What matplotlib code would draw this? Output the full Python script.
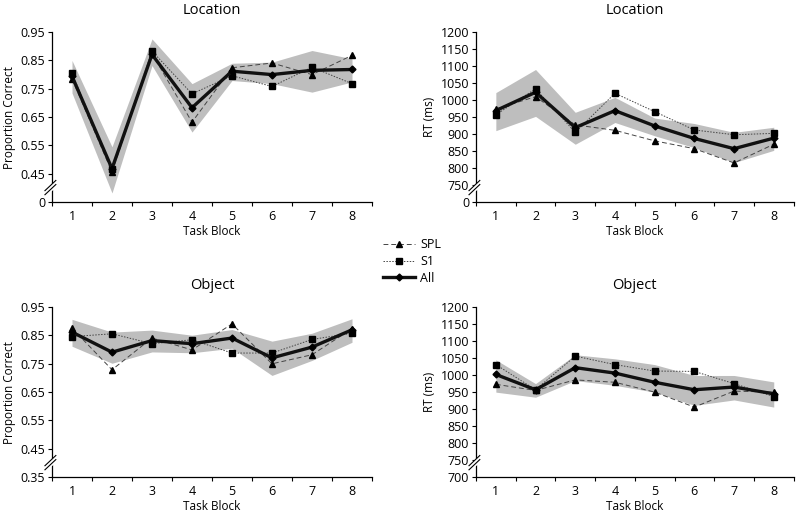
import matplotlib
matplotlib.use('Agg')
import matplotlib.pyplot as plt
from matplotlib.lines import Line2D
import numpy as np

plt.rcParams['font.family'] = ['Open Sans', 'DejaVu Sans']

blocks = [1, 2, 3, 4, 5, 6, 7, 8]

# Location - proportion correct
loc_pc_all = [0.794, 0.468, 0.871, 0.683, 0.812, 0.800, 0.815, 0.818]
loc_pc_spl = [0.785, 0.456, 0.874, 0.632, 0.824, 0.841, 0.800, 0.868]
loc_pc_s1 = [0.805, 0.466, 0.883, 0.732, 0.796, 0.758, 0.826, 0.768]
loc_pc_lo = [0.735, 0.382, 0.832, 0.597, 0.779, 0.768, 0.738, 0.774]
loc_pc_hi = [0.850, 0.545, 0.926, 0.768, 0.840, 0.844, 0.885, 0.856]

# Location - RT
loc_rt_all = [969, 1023, 919, 969, 924, 887, 857, 888]
loc_rt_spl = [974, 1010, 927, 911, 880, 857, 815, 870]
loc_rt_s1 = [957, 1033, 905, 1020, 966, 912, 898, 902]
loc_rt_lo = [910, 952, 870, 934, 895, 860, 816, 852]
loc_rt_hi = [1022, 1090, 964, 1008, 947, 931, 905, 920]

# Object - proportion correct
obj_pc_all = [0.862, 0.791, 0.832, 0.821, 0.841, 0.771, 0.809, 0.870]
obj_pc_spl = [0.876, 0.729, 0.841, 0.799, 0.891, 0.750, 0.782, 0.874]
obj_pc_s1 = [0.846, 0.856, 0.821, 0.835, 0.788, 0.788, 0.836, 0.858]
obj_pc_lo = [0.812, 0.752, 0.792, 0.789, 0.805, 0.709, 0.762, 0.826]
obj_pc_hi = [0.907, 0.862, 0.869, 0.851, 0.871, 0.830, 0.858, 0.909]

# Object - RT
obj_rt_all = [1002, 957, 1022, 1006, 979, 957, 965, 945]
obj_rt_spl = [973, 955, 986, 979, 950, 906, 953, 950]
obj_rt_s1 = [1031, 957, 1056, 1031, 1012, 1011, 975, 937]
obj_rt_lo = [950, 935, 984, 970, 950, 911, 927, 906]
obj_rt_hi = [1045, 975, 1060, 1048, 1031, 999, 999, 980]

pc_ticks = [0.35, 0.45, 0.55, 0.65, 0.75, 0.85, 0.95]
rt_ticks = [700, 750, 800, 850, 900, 950, 1000, 1050, 1100, 1150, 1200]

band_col = '#bebebe'
thin_col = '#444444'


def panel(ax, title, allv, spl, s1, lo, hi, ticks, bottom_label, ylabel):
    ax.fill_between(blocks, lo, hi, color=band_col, lw=0, zorder=1)
    ax.plot(blocks, spl, ls=(0, (5, 3)), color=thin_col, lw=0.7,
            marker='^', ms=5, mfc='black', mec='black', zorder=2)
    ax.plot(blocks, s1, ls=(0, (1.5, 1.5)), color=thin_col, lw=0.7,
            marker='s', ms=5, mfc='black', mec='black', zorder=2)
    ax.plot(blocks, allv, ls='-', color='#111111', lw=2.4,
            marker='D', ms=3.5, mfc='black', mec='black', zorder=3)

    ax.set_xlim(0.5, 8.5)
    ax.set_ylim(ticks[0], ticks[-1])
    ax.set_xticks(np.arange(0.5, 9.0, 1.0))
    ax.set_xticklabels([])
    ax.set_xticks(blocks, minor=True)
    ax.set_xticklabels([str(b) for b in blocks], minor=True)
    ax.tick_params(axis='x', which='major', length=3, width=0.8, direction='out')
    ax.tick_params(axis='x', which='minor', length=0, pad=6, labelsize=9)
    ax.set_yticks(ticks)
    labels = [('%g' % t) if isinstance(t, int) else ('%.2f' % t) for t in ticks]
    labels[0] = bottom_label
    ax.set_yticklabels(labels)
    ax.tick_params(axis='y', length=3, width=0.8, direction='out', labelsize=9, pad=2)

    for s in ['top', 'right']:
        ax.spines[s].set_visible(False)
    ax.spines['left'].set_linewidth(0.9)
    ax.spines['bottom'].set_linewidth(0.9)

    ax.set_title(title, fontsize=10.5, pad=13)
    ax.set_xlabel('Task Block', fontsize=8.5, labelpad=1)
    ax.set_ylabel(ylabel, fontsize=8.5, labelpad=3)

    # axis break marks
    yb = 0.085
    ax.plot([-0.018, 0.018], [yb - 0.025, yb + 0.025], transform=ax.transAxes,
            color='white', lw=4, clip_on=False, zorder=5)
    for d in (-0.012, 0.012):
        ax.plot([-0.022, 0.012], [yb - 0.03 + d, yb + 0.03 + d],
                transform=ax.transAxes, color='black', lw=0.8,
                clip_on=False, zorder=6)


fig = plt.figure(figsize=(8, 5.18), dpi=100)
ax1 = fig.add_axes([0.065, 0.610, 0.400, 0.328])
ax2 = fig.add_axes([0.595, 0.610, 0.397, 0.328])
ax3 = fig.add_axes([0.065, 0.079, 0.400, 0.328])
ax4 = fig.add_axes([0.595, 0.079, 0.397, 0.328])

panel(ax1, 'Location', loc_pc_all, loc_pc_spl, loc_pc_s1, loc_pc_lo, loc_pc_hi,
      pc_ticks, '0', 'Proportion Correct')
panel(ax2, 'Location', loc_rt_all, loc_rt_spl, loc_rt_s1, loc_rt_lo, loc_rt_hi,
      rt_ticks, '0', 'RT (ms)')
panel(ax3, 'Object', obj_pc_all, obj_pc_spl, obj_pc_s1, obj_pc_lo, obj_pc_hi,
      pc_ticks, '0.35', 'Proportion Correct')
panel(ax4, 'Object', obj_rt_all, obj_rt_spl, obj_rt_s1, obj_rt_lo, obj_rt_hi,
      rt_ticks, '700', 'RT (ms)')

handles = [
    Line2D([], [], ls=(0, (5, 3)), color=thin_col, lw=0.7, marker='^', ms=5,
           mfc='black', mec='black'),
    Line2D([], [], ls=(0, (1.5, 1.5)), color=thin_col, lw=0.7, marker='s', ms=5,
           mfc='black', mec='black'),
    Line2D([], [], ls='-', color='#111111', lw=2.4, marker='D', ms=3.5,
           mfc='black', mec='black'),
]
fig.legend(handles, ['SPL', 'S1', 'All'], loc='center', bbox_to_anchor=(0.515, 0.495),
           frameon=False, fontsize=9, handlelength=2.6, handletextpad=0.4,
           labelspacing=0.3)

fig.savefig('out.png', dpi=100)
